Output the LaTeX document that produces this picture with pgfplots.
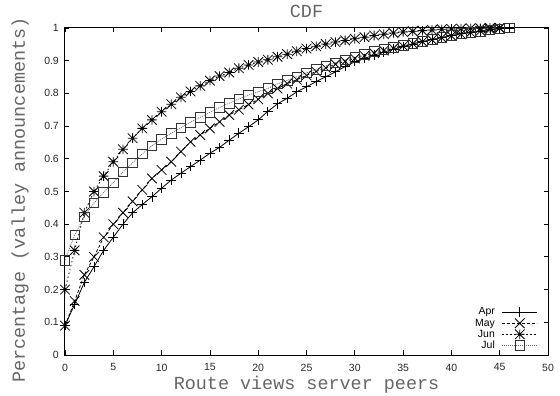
\documentclass[border=0pt]{standalone}
\usepackage{fontspec}
\setmainfont{Liberation Sans}
\newfontfamily\cour{Liberation Mono}
\usepackage{pgfplots}
\pgfplotsset{compat=1.18}
\pgfdeclareplotmark{gpplus}{%
  \pgfpathmoveto{\pgfqpoint{-\pgfplotmarksize}{0pt}}\pgfpathlineto{\pgfqpoint{\pgfplotmarksize}{0pt}}%
  \pgfpathmoveto{\pgfqpoint{0pt}{-\pgfplotmarksize}}\pgfpathlineto{\pgfqpoint{0pt}{\pgfplotmarksize}}%
  \pgfusepathqstroke}
\pgfdeclareplotmark{gpx}{%
  \pgfpathmoveto{\pgfqpoint{-\pgfplotmarksize}{-\pgfplotmarksize}}\pgfpathlineto{\pgfqpoint{\pgfplotmarksize}{\pgfplotmarksize}}%
  \pgfpathmoveto{\pgfqpoint{-\pgfplotmarksize}{\pgfplotmarksize}}\pgfpathlineto{\pgfqpoint{\pgfplotmarksize}{-\pgfplotmarksize}}%
  \pgfusepathqstroke}
\pgfdeclareplotmark{gpstar}{%
  \pgfpathmoveto{\pgfqpoint{-\pgfplotmarksize}{0pt}}\pgfpathlineto{\pgfqpoint{\pgfplotmarksize}{0pt}}%
  \pgfpathmoveto{\pgfqpoint{0pt}{-\pgfplotmarksize}}\pgfpathlineto{\pgfqpoint{0pt}{\pgfplotmarksize}}%
  \pgfpathmoveto{\pgfqpoint{-\pgfplotmarksize}{-\pgfplotmarksize}}\pgfpathlineto{\pgfqpoint{\pgfplotmarksize}{\pgfplotmarksize}}%
  \pgfpathmoveto{\pgfqpoint{-\pgfplotmarksize}{\pgfplotmarksize}}\pgfpathlineto{\pgfqpoint{\pgfplotmarksize}{-\pgfplotmarksize}}%
  \pgfusepathqstroke}
\pgfdeclareplotmark{gpbox}{%
  \pgfpathrectanglecorners{\pgfqpoint{-\pgfplotmarksize}{-\pgfplotmarksize}}{\pgfqpoint{\pgfplotmarksize}{\pgfplotmarksize}}%
  \pgfusepathqstroke}

\pgfplotstableread{
x y
0 0.09
1 0.155
2 0.222
3 0.27
4 0.32
5 0.36
6 0.40
7 0.435
8 0.46
9 0.484
10 0.51
11 0.535
12 0.556
13 0.576
14 0.596
15 0.617
16 0.635
17 0.657
18 0.678
19 0.698
20 0.719
21 0.745
22 0.768
23 0.785
24 0.805
25 0.82
26 0.836
27 0.851
28 0.866
29 0.882
30 0.897
31 0.907
32 0.917
33 0.926
34 0.935
35 0.943
36 0.951
37 0.958
38 0.965
39 0.971
40 0.977
41 0.982
42 0.987
43 0.991
44 0.995
45 0.998
46 1.0
}\apr
\pgfplotstableread{
x y
0 0.09
1 0.165
2 0.245
3 0.30
4 0.36
5 0.40
6 0.435
7 0.47
8 0.505
9 0.54
10 0.566
11 0.591
12 0.622
13 0.652
14 0.673
15 0.693
16 0.713
17 0.734
18 0.75
19 0.766
20 0.782
21 0.80
22 0.815
23 0.83
24 0.842
25 0.855
26 0.867
27 0.878
28 0.889
29 0.898
30 0.907
31 0.915
32 0.923
33 0.931
34 0.938
35 0.945
36 0.952
37 0.958
38 0.964
39 0.97
40 0.976
41 0.981
42 0.986
43 0.991
44 0.996
45 1.0
}\may
\pgfplotstableread{
x y
0 0.20
1 0.32
2 0.435
3 0.50
4 0.547
5 0.591
6 0.629
7 0.663
8 0.693
9 0.719
10 0.744
11 0.767
12 0.788
13 0.806
14 0.823
15 0.839
16 0.853
17 0.864
18 0.877
19 0.887
20 0.896
21 0.903
22 0.912
23 0.92
24 0.929
25 0.937
26 0.944
27 0.951
28 0.957
29 0.962
30 0.967
31 0.972
32 0.977
33 0.981
34 0.985
35 0.988
36 0.99
37 0.992
38 0.994
39 0.996
40 0.997
41 0.998
42 0.999
43 0.999
44 1.0
45 1.0
}\jun
\pgfplotstableread{
x y
0 0.29
1 0.367
2 0.423
3 0.465
4 0.497
5 0.527
6 0.56
7 0.588
8 0.615
9 0.64
10 0.66
11 0.678
12 0.695
13 0.712
14 0.727
15 0.742
16 0.757
17 0.77
18 0.783
19 0.795
20 0.805
21 0.815
22 0.829
23 0.84
24 0.851
25 0.863
26 0.874
27 0.884
28 0.894
29 0.902
30 0.911
31 0.92
32 0.928
33 0.935
34 0.941
35 0.947
36 0.953
37 0.96
38 0.966
39 0.972
40 0.978
41 0.983
42 0.987
43 0.99
44 0.994
45 0.997
46 1.0
}\jul

\begin{document}
\begin{tikzpicture}
\begin{axis}[
  at={(0,0)}, anchor=south west,
  scale only axis, width=483bp, height=327bp,
  xmin=0, xmax=50, ymin=0, ymax=1,
  xtick={0,5,...,50},
  ytick={0,0.1,0.2,0.3,0.4,0.5,0.6,0.7,0.8,0.9,1},
  yticklabels={0,0.1,0.2,0.3,0.4,0.5,0.6,0.7,0.8,0.9,1},
  /pgf/number format/assume math mode=true,
  tick align=inside, major tick length=4.5bp,
  tick style={line width=0.8bp, black},
  axis line style={line width=1bp},
  ticklabel style={font=\fontsize{10.5}{12}\selectfont, text=black!85},
  yticklabel style={inner sep=0pt, xshift=-6bp},
  xticklabel style={inner sep=0pt, yshift=-8.5bp},
  clip=false,
  xlabel={Route views server peers},
  xlabel style={at={(axis description cs:0.5,-0.104)}, anchor=base, inner sep=0pt, font=\cour\fontsize{18.5}{20}\selectfont, text=black!60},
  ylabel={Percentage (valley announcements)},
  ylabel style={at={(axis description cs:-0.093,0.474)}, anchor=center, rotate=0, inner sep=0pt, font=\cour\fontsize{18.5}{20}\selectfont, text=black!60},
  legend plot pos=right,
  legend cell align=right,
  legend image code/.code={\draw[mark repeat=2,mark phase=2,#1] plot coordinates {(0bp,0bp)(17.5bp,0bp)(35bp,0bp)};},
  legend style={draw=none, fill=none, at={(0.979,0.014)}, anchor=south east, inner sep=0pt,
    font=\fontsize{10.5}{12}\selectfont, row sep=1.5bp, column sep=7bp,
    nodes={inner sep=0pt}},
]
\addplot[black, line width=0.8bp, mark=gpplus, mark size=4.8bp, mark options={solid}] table[x=x,y=y] {\apr};
\addlegendentry{Apr}
\addplot[black, line width=0.8bp, dash pattern=on 3bp off 2bp, mark=gpx, mark size=4.8bp, mark options={solid}] table[x=x,y=y] {\may};
\addlegendentry{May}
\addplot[black, line width=0.8bp, dash pattern=on 1.5bp off 2.5bp, mark=gpstar, mark size=4.8bp, mark options={solid}] table[x=x,y=y] {\jun};
\addlegendentry{Jun}
\addplot[black!60, line width=0.7bp, dash pattern=on 1bp off 1bp, mark=gpbox, mark size=4.8bp, mark options={solid, black!80}] table[x=x,y=y] {\jul};
\addlegendentry{Jul}
\node[anchor=base, inner sep=0pt, font=\cour\fontsize{18.5}{20}\selectfont, text=black!60] at (axis description cs:0.5,1.0327) {CDF};
\end{axis}
\pgfresetboundingbox
\path (-65bp,-41bp) rectangle (495bp,355bp);
\end{tikzpicture}
\end{document}
